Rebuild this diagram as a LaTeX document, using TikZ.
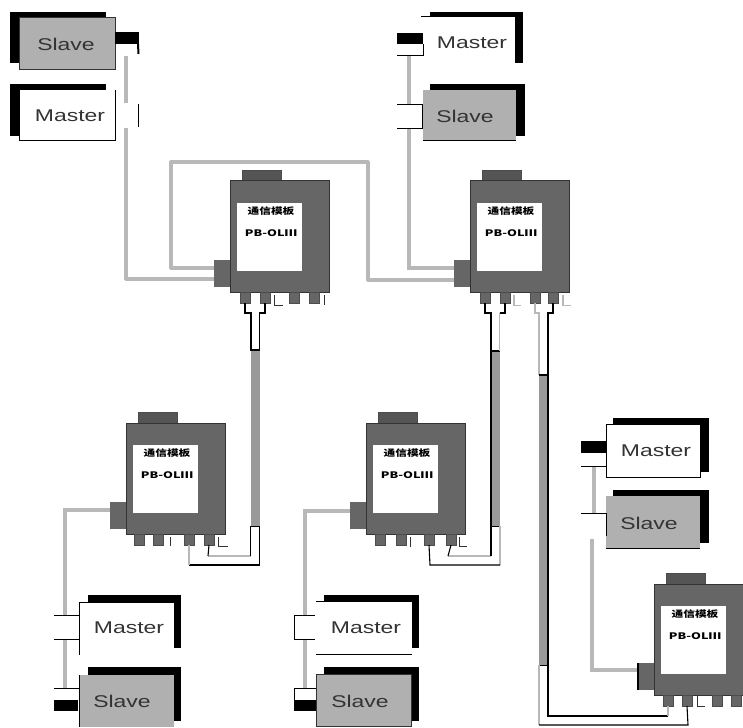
\documentclass[tikz,border=0pt]{standalone}
\usepackage{fontspec}
\usepackage{graphicx}
\setmainfont{Liberation Sans}
\newfontfamily\cjk{Noto Sans CJK SC}
\definecolor{bodygrey}{HTML}{666666}
\definecolor{tabgrey}{HTML}{555555}
\definecolor{slavegrey}{HTML}{B0B0B0}
\definecolor{wiregrey}{HTML}{B8B8B8}
\definecolor{trunkgrey}{HTML}{999999}
\tikzset{
  boxbase/.style={rectangle,inner sep=0pt,outer sep=0pt,anchor=north west},
  bodybox/.style={boxbase,fill=bodygrey,draw=black!80,line width=1pt},
  tabbox/.style={boxbase,fill=tabgrey,draw=black!70,line width=.8pt},
  labelbox/.style={boxbase,fill=white},
  portbox/.style={boxbase,fill=bodygrey,draw=black!70,line width=.6pt},
  shadowbox/.style={boxbase,fill=black},
  whitebox/.style={boxbase,fill=white},
  slavebox/.style={boxbase,fill=slavegrey},
  wire/.style={draw=wiregrey,line width=3.2pt},
  trunk/.style={draw=trunkgrey,line width=9pt},
  thin line/.style={draw=black,line width=1pt},
  cable/.style={draw=black,line width=1.1pt},
  greycable/.style={draw=wiregrey,line width=1.8pt},
  mark line/.style={draw=black!80,line width=1pt},
  mark grey/.style={draw=wiregrey,line width=1.4pt},
  devtext/.style={inner sep=0pt,font=\cjk\bfseries\fontsize{9}{9}\selectfont},
  boxtext/.style={inner sep=0pt,text=black!80,font=\fontsize{17}{17}\selectfont}
}
\newcommand{\rct}[6]{\node[#6,minimum width={((#4)-(#2))*1pt},minimum height={((#5)-(#3))*1pt}] (#1) at (#2,#3) {};}
% name, x, y, port centres (4)
\newcommand{\device}[7]{%
  \rct{#1tab}{#2+12}{#3-11}{#2+51}{#3}{tabbox}
  \rct{#1}{#2}{#3}{#2+99}{#3+111}{bodybox}
  \rct{#1left}{#2-16}{#3+79}{#2}{#3+106}{bodybox,draw=none}
  \rct{#1lab}{#2+7}{#3+22}{#2+72}{#3+90}{labelbox}
  \rct{#1pa}{#4-5}{#3+111}{#4+5}{#3+122}{portbox}
  \rct{#1pb}{#5-5}{#3+111}{#5+5}{#3+122}{portbox}
  \rct{#1pc}{#6-5}{#3+111}{#6+5}{#3+122}{portbox}
  \rct{#1pd}{#7-5}{#3+111}{#7+5}{#3+122}{portbox}
  \node[devtext] (#1ta) at (#2+41,#3+30) {\scalebox{1.3}[1]{通信模板}};
  \node[devtext] (#1tb) at (#2+41,#3+52) {\scalebox{1.4}[1]{PB-OLⅢ}};
}
\newcommand{\btext}[4]{\node[boxtext] (#1) at (#2,#3) {\scalebox{1.35}[1]{#4}};}
\begin{document}
\begin{tikzpicture}[x=1pt,y=-1pt]
\useasboundingbox (0,0) rectangle (743,727);
\fill[white] (0,0) rectangle (743,727);

% grey wires (under devices)
\coordinate (wa1) at (126,56);  \coordinate (wa2) at (126,103);
\coordinate (wb1) at (126,128); \coordinate (wb2) at (126,279);
\coordinate (wc1) at (171,268); \coordinate (wc2) at (171,162);
\coordinate (wc3) at (368,162); \coordinate (wc4) at (368,280);
\coordinate (wd1) at (409,56);  \coordinate (wd2) at (409,104);
\coordinate (we1) at (409,128); \coordinate (we2) at (409,268);
\coordinate (wf1) at (65,510);  \coordinate (wf2) at (65,615);
\coordinate (wg1) at (65,639);  \coordinate (wg2) at (65,688);
\coordinate (wh1) at (305,511); \coordinate (wh2) at (305,615);
\coordinate (wi1) at (305,639); \coordinate (wi2) at (305,688);
\coordinate (wj1) at (594,466); \coordinate (wj2) at (594,513);
\coordinate (wk1) at (592,539); \coordinate (wk2) at (592,670);

% devices
\device{da}{230}{181}{245}{265}{294}{314}
\device{db}{470}{181}{485}{505}{535}{553}
\device{dc}{126}{423}{139}{158}{189}{209}
\device{dd}{366}{423}{380}{401}{429}{451}
\device{de}{654}{584}{668}{687}{717}{736}

\draw[wire,line join=round] (wa1) -- (wa2);
\draw[wire,line join=round] (wb1) -- (wb2) -- (wb2 -| daleft.west);
\draw[wire,line join=round] (wc1 -| daleft.west) -- (wc1) -- (wc2) -- (wc3) -- (wc4) -- (wc4 -| dbleft.west);
\draw[wire] (wd1) -- (wd2);
\draw[wire] (we1) -- (we2) -- (we2 -| dbleft.west);
\draw[wire] (wf1 -| dcleft.west) -- (wf1) -- (wf2);
\draw[wire] (wg1) -- (wg2);
\draw[wire] (wh1 -| ddleft.west) -- (wh1) -- (wh2);
\draw[wire] (wi1) -- (wi2);
\draw[wire] (wj1) -- (wj2);
\draw[wire] (wk1) -- (wk2) -- (wk2 -| deleft.west);
\draw[thin line,line width=1.6pt] (deleft.north west) -- (deleft.south west);

% small marks beside the ports
\draw[mark line] (274,295) -- (274,305.5) -- (283,305.5);
\draw[mark line] (324,295) -- (324,305);
\draw[mark grey] (514,295) -- (514,305.5) -- (521,305.5);
\draw[mark grey] (563,295) -- (563,305.5) -- (571,305.5);
\draw[mark line] (170,537) -- (170,546);
\draw[mark line] (218,537) -- (218,546) -- (228,546);
\draw[mark line] (410,537) -- (410,547);
\draw[mark line] (459,537) -- (459,546) -- (467,546);
\draw[mark line] (697,696) -- (697,706) -- (705,706);

% top-left Slave / Master
\rct{sas}{10}{12}{106}{63}{shadowbox}
\rct{sa}{19}{18}{115}{70}{slavebox,draw=black!80,line width=1pt}
\rct{sac}{115}{32}{139}{44}{shadowbox}
\coordinate (sae) at (138.5,54);
\draw[thin line,line width=2pt] (sac.south east) ++(-1,0) -- (sae);
\btext{sat}{66}{44}{Slave}
\rct{mas}{10}{84}{106}{136}{shadowbox}
\rct{ma}{19}{90}{115}{141}{whitebox}
\draw[thin line] (ma.north east) -- (ma.south east) -- (ma.south west) -- (ma.north west);
\btext{mat}{70}{116}{Master}
\coordinate (mc1) at (138.5,104); \coordinate (mc2) at (138.5,127);
\draw[thin line,line width=1.4pt] (mc1) -- (mc2);

% top-right Master / Slave
\rct{mbs}{430}{12}{523}{63}{shadowbox}
\rct{mb}{421}{17}{515}{70}{whitebox}
\draw[thin line] (mb.north west) -- (mb.north east);
\rct{mbc}{397}{33}{423}{44}{shadowbox}
\coordinate (mbc1) at (397,55.5); \coordinate (mbc2) at (423,55.5); \coordinate (mbc3) at (423,44);
\draw[thin line] (mbc1) -- (mbc2) -- (mbc3);
\btext{mbt}{472}{43}{Master}
\rct{sbs}{430}{84}{525}{136}{shadowbox}
\rct{sb}{423}{90}{516}{141}{slavebox}
\draw[thin line] (sb.south west) -- (sb.south east);
\coordinate (sbc1) at (397,104.5); \coordinate (sbc2) at (422.5,104.5);
\coordinate (sbc3) at (422.5,128.5); \coordinate (sbc4) at (397,128.5);
\draw[thin line] (sbc1) -- (sbc2) -- (sbc3) -- (sbc4);
\btext{sbt}{465}{116}{Slave}

% bottom-left Master / Slave
\rct{mcs}{88}{595}{181}{648}{shadowbox}
\rct{mc}{79}{602}{174}{655}{whitebox}
\draw[thin line] (mc.north east) -- (mc.north west) -- (mc.south west);
\coordinate (mcc1) at (54,615.5); \coordinate (mcc2) at (78.5,615.5);
\coordinate (mcc3) at (54,639.5); \coordinate (mcc4) at (78.5,639.5);
\draw[thin line] (mcc1) -- (mcc2);
\draw[thin line] (mcc3) -- (mcc4);
\btext{mct}{129}{628}{Master}
\rct{scs}{88}{667}{181}{721}{shadowbox}
\rct{sc}{79}{675}{174}{727}{slavebox}
\draw[thin line] (sc.north west) -- (sc.south west);
\rct{scc}{54}{700}{78}{711}{shadowbox}
\coordinate (scc1) at (54,688.5); \coordinate (scc2) at (78.5,688.5);
\draw[thin line] (scc1) -- (scc2);
\btext{sct}{122}{701}{Slave}

% bottom-middle Master / Slave
\rct{mds}{324}{595}{419}{648}{shadowbox}
\rct{md}{316}{601}{412}{654}{whitebox}
\draw[thin line] (md.north west) -- (md.north east);
\draw[thin line] (md.south west) -- (md.south east);
\coordinate (mdc1) at (315,615.5); \coordinate (mdc2) at (294.5,615.5);
\coordinate (mdc3) at (294.5,639.5); \coordinate (mdc4) at (315,639.5);
\draw[thin line] (mdc1) -- (mdc2) -- (mdc3) -- (mdc4);
\btext{mdt}{366}{628}{Master}
\rct{sds}{324}{667}{419}{721}{shadowbox}
\rct{sd}{316}{674}{411}{726}{slavebox,draw=black!80,line width=1pt}
\rct{sdc}{294}{700}{316}{711}{shadowbox}
\coordinate (sdc1) at (294.5,700); \coordinate (sdc2) at (294.5,688.5); \coordinate (sdc3) at (316,688.5);
\draw[thin line] (sdc1) -- (sdc2) -- (sdc3);
\btext{sdt}{360}{701}{Slave}

% right Master / Slave
\rct{mes}{613}{418}{709}{472}{shadowbox}
\rct{me}{606}{424}{700}{477}{whitebox,draw=black,line width=1pt}
\rct{mec}{581}{441}{606}{453}{shadowbox}
\coordinate (mec1) at (581,466); \coordinate (mec2) at (606,466);
\draw[thin line] (mec1) -- (mec2);
\btext{met}{656}{451}{Master}
\rct{ses}{613}{490}{709}{543}{shadowbox}
\rct{se}{606}{496}{700}{548}{slavebox}
\draw[thin line] (se.south west) -- (se.south east);
\coordinate (sec1) at (581,513); \coordinate (sec2) at (606,513); \coordinate (sec3) at (606,536);
\draw[thin line] (sec1) -- (sec2) -- (sec3);
\btext{set}{649}{523}{Slave}

% trunks
\coordinate (ta1) at (255,350); \coordinate (ta2) at (255,526);
\coordinate (tb1) at (495.5,351); \coordinate (tb2) at (495.5,526);
\coordinate (tc1) at (543,375); \coordinate (tc2) at (543,665);
\draw[trunk] (ta1) -- (ta2);
\draw[trunk] (tb1) -- (tb2);
\draw[trunk] (tc1) -- (tc2);

% cable forks under device A
\coordinate (fa1) at (245,313); \coordinate (fa2) at (251,313); \coordinate (fa3) at (251,350);
\coordinate (fa4) at (259.5,350); \coordinate (fa5) at (259.5,313); \coordinate (fa6) at (265,313);
\draw[cable] (dapa.south) -- (fa1) -- (fa2) -- (fa3) -- (fa4) -- (fa5) -- (fa6) -- (dapb.south);
% device B, first pair
\coordinate (fb1) at (485,313); \coordinate (fb2) at (491,313); \coordinate (fb3) at (491,351);
\coordinate (fb4) at (499.5,351); \coordinate (fb5) at (499.5,313); \coordinate (fb6) at (505,313);
\draw[cable] (dbpa.south) -- (fb1) -- (fb2) -- (fb3) -- (fb4);
\draw[greycable] (fb4) -- (fb5);
\draw[cable] (fb5) -- (fb6) -- (dbpb.south);
\draw[cable] (fb3) -- (tb2 -| fb3);
% device B, second pair
\coordinate (fc1) at (535,313); \coordinate (fc2) at (539,313); \coordinate (fc3) at (539,375);
\coordinate (fc4) at (548,375); \coordinate (fc5) at (548,313); \coordinate (fc6) at (553,313);
\draw[greycable] (dbpc.south) -- (fc1) -- (fc2) -- (fc3);
\draw[cable] (fc3) -- (fc4) -- (fc5) -- (fc6) -- (dbpd.south);
\draw[cable] (fc4) -- (tc2 -| fc4);

% splits to device C
\coordinate (ca1) at (250.5,526); \coordinate (ca2) at (250.5,556); \coordinate (ca3) at (208,556);
\coordinate (ca4) at (259.5,526); \coordinate (ca5) at (259.5,565); \coordinate (ca6) at (189,565);
\draw[cable,line width=.8pt] (ca1) -- (ca4);
\draw[greycable] (ca2) -- (ca3);
\draw[cable] (ca1) -- (ca2);
\draw[cable] (ca3) -- (dcpd.south);
\draw[cable] (ca4) -- (ca5) -- (ca6);
\draw[greycable] (ca6) -- (dcpc.south);
% splits to device D
\coordinate (cb1) at (491,526); \coordinate (cb2) at (491,556); \coordinate (cb3) at (448,556);
\coordinate (cb4) at (500,526); \coordinate (cb5) at (500,565); \coordinate (cb6) at (430,565);
\draw[cable,line width=.8pt] (cb1) -- (cb4);
\draw[greycable] (cb2) -- (cb3);
\draw[cable] (cb1) -- (cb2);
\draw[cable] (cb3) -- (ddpd.south);
\draw[greycable] (cb4) -- (cb5);
\draw[cable] (cb5) -- (cb6) -- (ddpc.south);
% splits to device E
\coordinate (cc1) at (548,665); \coordinate (cc2) at (548,716); \coordinate (cc3) at (668,716);
\coordinate (cc4) at (539,665); \coordinate (cc5) at (539,725); \coordinate (cc6) at (688,725);
\draw[cable,line width=.8pt] (cc1) -- (cc4);
\draw[greycable] (cc4) -- (cc5);
\draw[cable] (cc5) -- (cc6) -- (depb.south);
\draw[cable] (cc1) -- (cc2) -- (cc3);
\draw[greycable] (cc3) -- (depa.south);
\end{tikzpicture}
\end{document}
